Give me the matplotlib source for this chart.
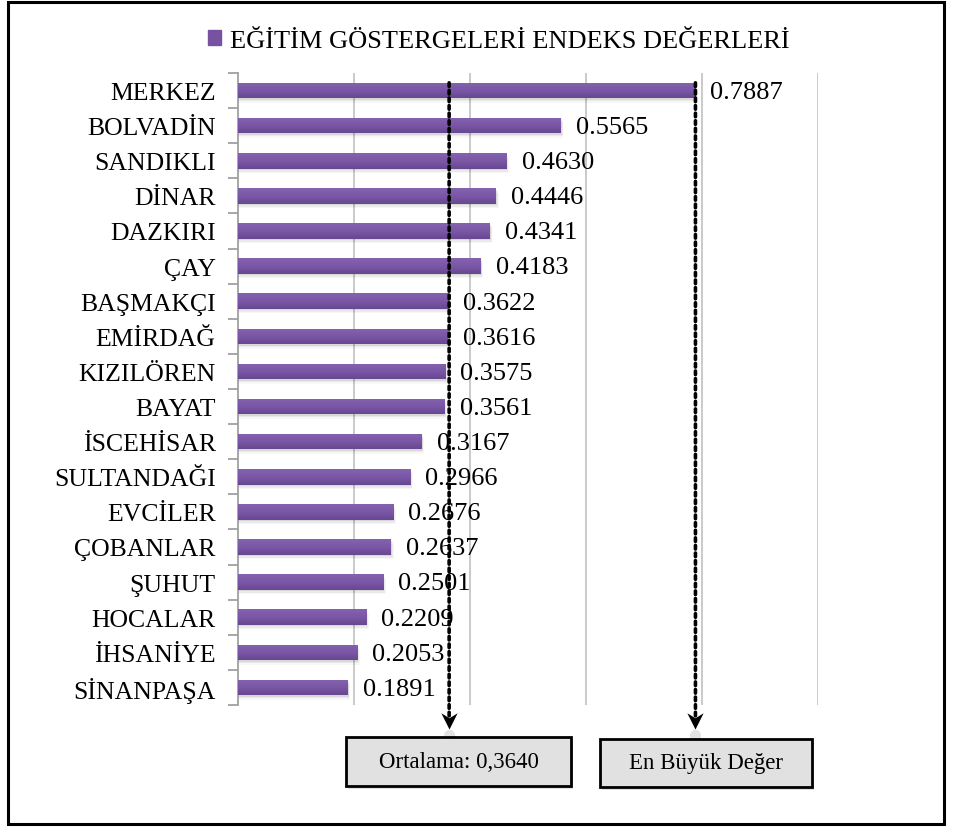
import numpy as np
import matplotlib
matplotlib.use('Agg')
import matplotlib.pyplot as plt
from matplotlib.patches import Rectangle, Patch
from matplotlib.path import Path
from matplotlib.colors import LinearSegmentedColormap
import matplotlib.transforms as mtransforms

plt.rcParams['font.family'] = ['Liberation Serif', 'DejaVu Serif']

# ---------------- data ----------------
districts = ['MERKEZ', 'BOLVADİN', 'SANDIKLI', 'DİNAR', 'DAZKIRI', 'ÇAY',
             'BAŞMAKÇI', 'EMİRDAĞ', 'KIZILÖREN', 'BAYAT', 'İSCEHİSAR',
             'SULTANDAĞI', 'EVCİLER', 'ÇOBANLAR', 'ŞUHUT', 'HOCALAR',
             'İHSANİYE', 'SİNANPAŞA']
values = [0.7887, 0.5565, 0.4630, 0.4446, 0.4341, 0.4183,
          0.3622, 0.3616, 0.3575, 0.3561, 0.3167,
          0.2966, 0.2676, 0.2637, 0.2501, 0.2209,
          0.2053, 0.1891]
series_name = 'EĞİTİM GÖSTERGELERİ ENDEKS DEĞERLERİ'
max_label = 'En Büyük Değer'
grid_ticks = [0.2, 0.4, 0.6, 0.8, 1.0]
x_limit = 1.0

# ---------------- figure ----------------
W, H = 954, 828
fig = plt.figure(figsize=(W / 100, H / 100), dpi=100)
ax_left, ax_right, ax_top, ax_bottom = 238, 818, 74, 706
ax = fig.add_axes([ax_left / W, 1 - ax_bottom / H,
                   (ax_right - ax_left) / W, (ax_bottom - ax_top) / H])

vals = np.array(values)
y = np.arange(len(vals))
bar_h = 0.44
px_y = len(vals) / (ax_bottom - ax_top)      # data units per pixel (y)
px_x = x_limit / (ax_right - ax_left)        # data units per pixel (x)

# soft shadow
for off, a in [(1.5, 0.08), (3, 0.05), (4.5, 0.03)]:
    ax.barh(y + off * px_y, vals + off * 0.6 * px_x, height=bar_h,
            color='black', alpha=a, zorder=2, linewidth=0)

bars = ax.barh(y, vals, height=bar_h, color='#7753A2', zorder=3, linewidth=0)
grad = np.linspace(0, 1, 64).reshape(-1, 1)
cmap = LinearSegmentedColormap.from_list('purp', ['#8363AF', '#7B57A7', '#67488F'])
for b in bars:
    x0, y0, w, h = b.get_x(), b.get_y(), b.get_width(), b.get_height()
    im = ax.imshow(grad, extent=(x0, x0 + w, y0 + h, y0), cmap=cmap,
                   aspect='auto', zorder=4, interpolation='bilinear')
    im.set_clip_path(b)

for yi, v in zip(y, vals):
    ax.annotate(f'{v:.4f}', xy=(v, yi), xytext=(10.8, -1),
                textcoords='offset points', ha='left', va='center',
                fontsize=19, zorder=6)

ax.set_xlim(0, x_limit)
ax.set_ylim(len(vals) - 0.5, -0.5)

ax.set_xticks(grid_ticks)
ax.xaxis.grid(True, color='#C6C6C6', linewidth=1.3)
ax.set_axisbelow(True)
ax.tick_params(axis='x', length=0, labelbottom=False)

ax.set_yticks(y)
ax.set_yticklabels(districts, fontsize=18.5)
ax.set_yticks(np.arange(-0.5, len(vals)), minor=True)
ax.tick_params(axis='y', which='major', length=0, pad=16)
ax.tick_params(axis='y', which='minor', length=7, color='#A0A0A0', width=1.3)

for s in ['top', 'right', 'bottom']:
    ax.spines[s].set_visible(False)
ax.spines['left'].set_color('#A0A0A0')
ax.spines['left'].set_linewidth(1.3)

# ---------------- legend ----------------
fig.legend(handles=[Patch(color='#7752A2', label=series_name)], loc='center',
           bbox_to_anchor=(499 / W, 1 - 42 / H), frameon=False, fontsize=19,
           handlelength=0.5, handleheight=0.5, handletextpad=0.35)

# ---------------- arrows ----------------
mean_val = float(vals.mean())
max_val = float(vals.max())
blend = mtransforms.blended_transform_factory(ax.transData, fig.transFigure)
tip_px = 730
head = Path([(0, -1), (-0.9, 0.8), (0, 0.25), (0.9, 0.8), (0, -1)],
            [Path.MOVETO, Path.LINETO, Path.LINETO, Path.LINETO, Path.CLOSEPOLY])
for xv in [mean_val, max_val]:
    ax.annotate('', xy=(xv, 1 - 718 / H), xycoords=blend,
                xytext=(xv, -bar_h / 2), textcoords='data',
                arrowprops=dict(arrowstyle='-', linestyle=(0, (1, 1.1)),
                                lw=2.6, color='black', shrinkA=0, shrinkB=0),
                annotation_clip=False, zorder=7)
    ax.plot([xv], [1 - (tip_px + 6) / H], transform=blend, marker='o',
            markersize=8, color='#777777', alpha=0.2, clip_on=False,
            markeredgewidth=0, zorder=6)
    ax.plot([xv], [1 - (tip_px - 9) / H], transform=blend, marker=head,
            markersize=13, color='black', clip_on=False, zorder=8,
            markeredgewidth=0)

# ---------------- boxes ----------------
mean_label = 'Ortalama: ' + f'{mean_val:.4f}'.replace('.', ',')
boxes = [((346, 738, 571, 787), mean_label), ((600, 740, 812, 788), max_label)]
for (l, t, r, btm), txt in boxes:
    fig.patches.append(Rectangle(((l + 2) / W, 1 - (btm + 3) / H), (r - l) / W,
                                 (btm - t) / H, transform=fig.transFigure,
                                 fc='#999999', ec='none', alpha=0.3, zorder=1))
    fig.patches.append(Rectangle((l / W, 1 - btm / H), (r - l) / W,
                                 (btm - t) / H, transform=fig.transFigure,
                                 fc='#E1E1E1', ec='black', lw=2, zorder=2))
    fig.text((l + r) / 2 / W, 1 - (t + btm) / 2 / H, txt, ha='center',
             va='center', fontsize=16.5, zorder=3)

# ---------------- outer border ----------------
fig.patches.append(Rectangle((8.5 / W, 1 - 825 / H), (944 - 8.5) / W,
                             (825 - 3) / H, transform=fig.transFigure,
                             fill=False, ec='black', lw=2.2))

fig.savefig('out.png', dpi=100)
